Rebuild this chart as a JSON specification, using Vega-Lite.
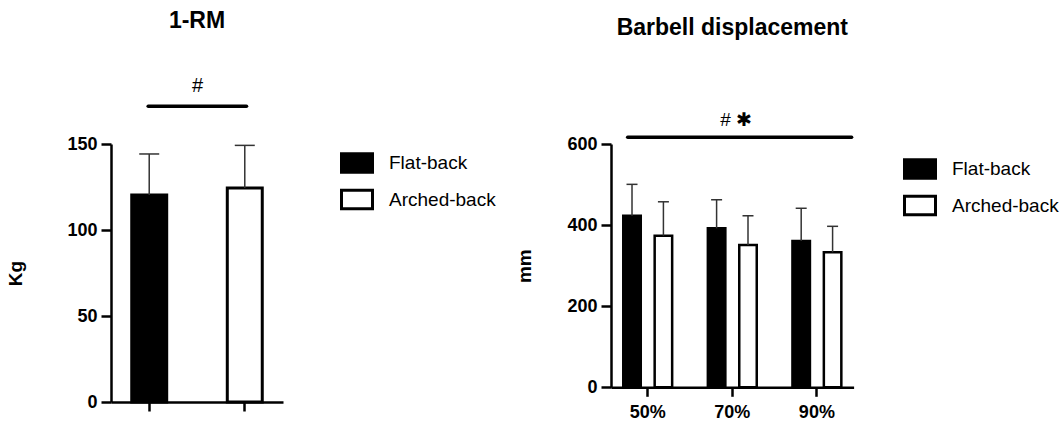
{
  "$schema": "https://vega.github.io/schema/vega-lite/v6.json",
  "background": "white",
  "padding": {"left": 6, "top": 10, "right": 0, "bottom": 0},
  "bounds": "flush",
  "spacing": 328,
  "config": {
    "view": {"stroke": null},
    "font": "Liberation Sans",
    "axis": {
      "domainColor": "black", "domainWidth": 2.5, "tickColor": "black", "tickWidth": 2.5,
      "labelFont": "Liberation Sans", "labelFontWeight": "bold", "labelFontSize": 18, "labelColor": "black",
      "titleFont": "Liberation Sans", "titleFontWeight": "bold", "titleFontSize": 19, "titleColor": "black",
      "grid": false, "labelPadding": 4
    },
    "legend": {
      "orient": "right", "title": null,
      "symbolType": "M-1,-0.6H1V0.6H-1Z", "symbolSize": 961,
      "symbolStrokeColor": "black", "symbolStrokeWidth": 3,
      "labelFont": "Liberation Sans", "labelFontSize": 19, "labelColor": "black", "labelOffset": 15,
      "rowPadding": 3.5
    },
    "title": {"font": "Liberation Sans", "fontWeight": "bold", "fontSize": 23, "color": "black", "anchor": "middle"}
  },
  "resolve": {"scale": {"fill": "independent"}, "legend": {"fill": "independent"}},
  "datasets": {
    "rm": [
      {"group": "Flat-back", "mean": 120.4, "upper": 144.2},
      {"group": "Arched-back", "mean": 124.4, "upper": 149.2}
    ],
    "rmNote": [
      {"from": "Flat-back", "to": "Arched-back", "level": 171.9, "labelLevel": 183.6, "label": "#"}
    ],
    "disp": [
      {"load": "50%", "group": "Flat-back", "mean": 423, "upper": 500.5},
      {"load": "50%", "group": "Arched-back", "mean": 374, "upper": 457.5},
      {"load": "70%", "group": "Flat-back", "mean": 392, "upper": 462.5},
      {"load": "70%", "group": "Arched-back", "mean": 351, "upper": 423},
      {"load": "90%", "group": "Flat-back", "mean": 361, "upper": 441.5},
      {"load": "90%", "group": "Arched-back", "mean": 333, "upper": 397}
    ],
    "dispNote": [
      {"from": "50%", "to": "90%", "mid": "70%", "level": 616.5, "labelLevel": 659, "label": "# ✱"}
    ]
  },
  "hconcat": [
    {
      "width": 172, "height": 258,
      "title": {"text": "1-RM", "offset": 43},
      "layer": [
        {
          "data": {"name": "rm"},
          "mark": {"type": "bar", "stroke": "black", "strokeWidth": 3},
          "encoding": {
            "x": {"field": "group", "type": "nominal",
              "scale": {"domain": ["Flat-back", "Arched-back"], "paddingInner": 0.634, "paddingOuter": 0.217},
              "axis": {"labels": false, "title": null, "tickSize": 9}},
            "y": {"field": "mean", "type": "quantitative",
              "scale": {"domain": [0, 150], "nice": false},
              "axis": {"values": [0, 50, 100, 150], "title": "Kg", "titlePadding": 41, "tickSize": 10}},
            "fill": {"field": "group", "type": "nominal",
              "scale": {"domain": ["Flat-back", "Arched-back"], "range": ["black", "white"]},
              "legend": {"offset": 55, "padding": 2}}
          }
        },
        {
          "data": {"name": "rm"},
          "mark": {"type": "rule", "color": "#333333", "strokeWidth": 1.5},
          "encoding": {
            "x": {"field": "group", "type": "nominal", "scale": {"domain": ["Flat-back", "Arched-back"]}},
            "y": {"field": "mean", "type": "quantitative"},
            "y2": {"field": "upper"}
          }
        },
        {
          "data": {"name": "rm"},
          "mark": {"type": "tick", "color": "#333333", "thickness": 1.5, "size": 20, "opacity": 1},
          "encoding": {
            "x": {"field": "group", "type": "nominal", "scale": {"domain": ["Flat-back", "Arched-back"]}},
            "y": {"field": "upper", "type": "quantitative"}
          }
        },
        {
          "data": {"name": "rmNote"},
          "mark": {"type": "rule", "color": "black", "strokeWidth": 3.5, "strokeCap": "round"},
          "encoding": {
            "x": {"field": "from", "type": "nominal", "bandPosition": 0.47, "scale": {"domain": ["Flat-back", "Arched-back"]}},
            "x2": {"field": "to", "bandPosition": 0.55},
            "y": {"field": "level", "type": "quantitative"}
          }
        },
        {
          "data": {"name": "rmNote"},
          "mark": {"type": "text", "fontSize": 20, "color": "black", "baseline": "middle", "align": "center"},
          "encoding": {
            "x": {"field": "from", "type": "nominal", "bandPosition": 1.88, "scale": {"domain": ["Flat-back", "Arched-back"]}},
            "y": {"field": "labelLevel", "type": "quantitative"},
            "text": {"field": "label"}
          }
        }
      ]
    },
    {
      "width": 242.6, "height": 243.3,
      "title": {"text": "Barbell displacement", "offset": 71},
      "layer": [
        {
          "data": {"name": "disp"},
          "mark": {"type": "bar", "stroke": "black", "strokeWidth": 2.5},
          "encoding": {
            "x": {"field": "load", "type": "nominal",
              "scale": {"domain": ["50%", "70%", "90%"], "paddingInner": 0.422, "paddingOuter": 0.145},
              "axis": {"title": null, "tickSize": 9, "labelAngle": 0, "labelPadding": 7}},
            "xOffset": {"field": "group", "type": "nominal",
              "scale": {"domain": ["Flat-back", "Arched-back"], "paddingInner": 0.443, "paddingOuter": 0}},
            "y": {"field": "mean", "type": "quantitative",
              "scale": {"domain": [0, 600], "nice": false},
              "axis": {"values": [0, 200, 400, 600], "title": "mm", "titlePadding": 32, "tickSize": 10}},
            "fill": {"field": "group", "type": "nominal",
              "scale": {"domain": ["Flat-back", "Arched-back"], "range": ["black", "white"]},
              "legend": {"offset": 41, "padding": 8}}
          }
        },
        {
          "data": {"name": "disp"},
          "mark": {"type": "rule", "color": "#333333", "strokeWidth": 1.5},
          "encoding": {
            "x": {"field": "load", "type": "nominal", "scale": {"domain": ["50%", "70%", "90%"]}},
            "xOffset": {"field": "group", "type": "nominal", "scale": {"domain": ["Flat-back", "Arched-back"]}},
            "y": {"field": "mean", "type": "quantitative"},
            "y2": {"field": "upper"}
          }
        },
        {
          "data": {"name": "disp"},
          "mark": {"type": "tick", "color": "#333333", "thickness": 1.5, "size": 11, "opacity": 1},
          "encoding": {
            "x": {"field": "load", "type": "nominal", "scale": {"domain": ["50%", "70%", "90%"]}},
            "xOffset": {"field": "group", "type": "nominal", "scale": {"domain": ["Flat-back", "Arched-back"]}},
            "y": {"field": "upper", "type": "quantitative"}
          }
        },
        {
          "data": {"name": "dispNote"},
          "mark": {"type": "rule", "color": "black", "strokeWidth": 3.5, "strokeCap": "round"},
          "encoding": {
            "x": {"field": "from", "type": "nominal", "bandPosition": 0.09, "scale": {"domain": ["50%", "70%", "90%"]}},
            "x2": {"field": "to", "bandPosition": 1.21},
            "y": {"field": "level", "type": "quantitative"}
          }
        },
        {
          "data": {"name": "dispNote"},
          "mark": {"type": "text", "fontSize": 19, "color": "black", "baseline": "middle", "align": "center"},
          "encoding": {
            "x": {"field": "mid", "type": "nominal", "bandPosition": 0.58, "scale": {"domain": ["50%", "70%", "90%"]}},
            "y": {"field": "labelLevel", "type": "quantitative"},
            "text": {"field": "label"}
          }
        }
      ]
    }
  ]
}
